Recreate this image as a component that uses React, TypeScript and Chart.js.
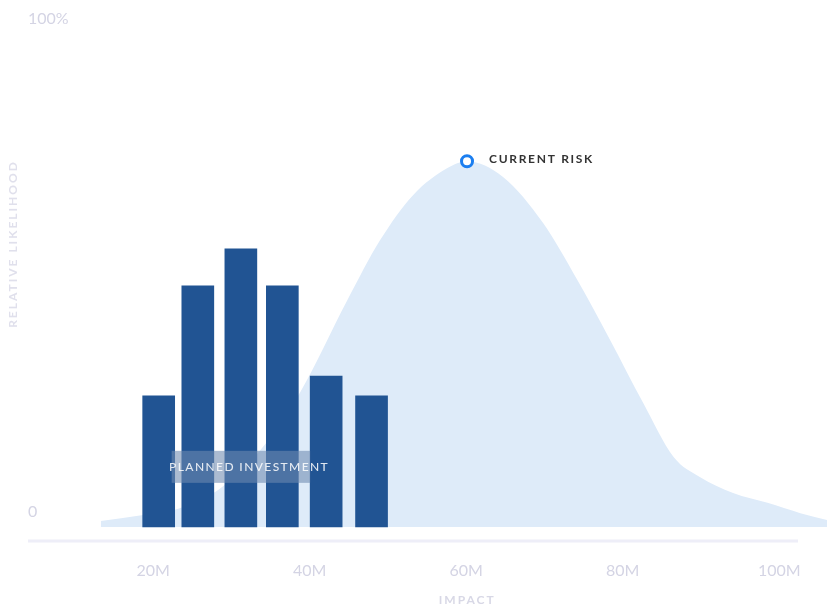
import React, { useEffect, useRef } from 'react';
import { Chart, registerables } from 'chart.js';

Chart.register(...registerables);

// ---- data ----
const xTickValues = [20, 40, 60, 80, 100];
const yTickValues = [0, 100];
const axisLineEnd = 102.4;
const barImpact = [20.7, 25.7, 31.2, 36.5, 42.1, 47.9];
const barLikelihood = [26.6, 48.9, 56.4, 48.9, 30.6, 26.6];
const curveImpact = [13.3, 18.5, 23.2, 28.3, 33.7, 38.8, 44.8, 49.0, 53.2, 57.6, 60.1, 64.7, 69.8, 74.2, 78.4, 82.6, 86.5, 89.9, 94.1, 98.5, 102.7, 106.1];
const curveLikelihood = [1.2, 2.4, 3.7, 7.5, 15.6, 27.4, 46.0, 58.2, 67.3, 72.8, 74.2, 71.0, 61.7, 50.1, 37.9, 25.2, 14.2, 10.1, 6.9, 4.9, 2.8, 1.4];
const currentRiskImpact = [60.1];
const currentRiskLikelihood = [74.2];
const labels = {
  xTitle: 'IMPACT',
  yTitle: 'RELATIVE LIKELIHOOD',
  risk: 'CURRENT RISK',
  investment: 'PLANNED INVESTMENT',
};

const FONT = 'Lato, "Open Sans", sans-serif';

const annotationPlugin = {
  id: 'riskAnnotations',
  afterDatasetsDraw(chart: any) {
    const ctx = chart.ctx;
    const bars = chart.getDatasetMeta(1).data;
    const yScale = chart.scales.y;
    if (!bars || bars.length < 6) return;
    // planned investment band
    const left = bars[0].x + 13;
    const right = bars[4].x - 16;
    const cy = yScale.getPixelForValue(12.2);
    ctx.save();
    ctx.fillStyle = 'rgba(110,138,176,0.58)';
    ctx.fillRect(left, cy - 16, right - left, 32);
    ctx.font = `500 12px ${FONT}`;
    (ctx as any).letterSpacing = '1.4px';
    ctx.fillStyle = 'rgba(255,255,255,0.85)';
    ctx.textAlign = 'center';
    ctx.textBaseline = 'middle';
    ctx.fillText(labels.investment, (bars[0].x + bars[5].x) / 2 - 16, cy);
    ctx.restore();
  },
  afterDraw(chart: any) {
    const ctx = chart.ctx;
    const area = chart.chartArea;
    const xs = chart.scales.x;
    ctx.save();
    // x axis line
    ctx.strokeStyle = '#eeeef8';
    ctx.lineWidth = 3;
    ctx.beginPath();
    ctx.moveTo(area.left, area.bottom);
    ctx.lineTo(xs.getPixelForValue(axisLineEnd), area.bottom);
    ctx.stroke();
    // current risk label
    const pt = chart.getDatasetMeta(0).data[0];
    if (pt) {
      ctx.font = `bold 12px ${FONT}`;
      (ctx as any).letterSpacing = '1.7px';
      ctx.fillStyle = '#333333';
      ctx.textAlign = 'left';
      ctx.textBaseline = 'middle';
      ctx.fillText(labels.risk, pt.x + 22, pt.y - 2);
    }
    // axis titles
    ctx.font = `bold 12px ${FONT}`;
    (ctx as any).letterSpacing = '2px';
    ctx.fillStyle = '#d8d8e6';
    ctx.textAlign = 'center';
    ctx.textBaseline = 'middle';
    ctx.fillText(labels.xTitle, xs.getPixelForValue(60) + 1, 600);
    ctx.translate(13, 244);
    ctx.rotate(-Math.PI / 2);
    ctx.fillStyle = '#e0e0ec';
    ctx.fillText(labels.yTitle, 0, 0);
    ctx.restore();
  },
};

export default function App() {
  const ref = useRef<HTMLCanvasElement | null>(null);

  useEffect(() => {
    if (!ref.current) return;
    const chart = new Chart(ref.current, {
      type: 'line',
      data: {
        datasets: [
          {
            type: 'line',
            label: 'Current risk',
            data: currentRiskImpact.map((x, i) => ({ x, y: currentRiskLikelihood[i] })),
            showLine: false,
            pointRadius: 5.5,
            pointBorderWidth: 3,
            pointBorderColor: '#1b7ef0',
            pointBackgroundColor: '#ffffff',
            clip: false,
            order: 0,
          } as any,
          {
            type: 'bar',
            label: 'Planned investment',
            data: barImpact.map((x, i) => ({ x, y: barLikelihood[i] })),
            backgroundColor: '#215493',
            barThickness: 32,
            order: 1,
          } as any,
          {
            type: 'line',
            label: 'Risk distribution',
            data: curveImpact.map((x, i) => ({ x, y: curveLikelihood[i] })),
            borderWidth: 0,
            borderColor: 'rgba(0,0,0,0)',
            backgroundColor: '#deebf9',
            fill: 'origin',
            pointRadius: 0,
            cubicInterpolationMode: 'monotone',
            order: 5,
          } as any,
        ],
      },
      options: {
        animation: false,
        responsive: false,
        maintainAspectRatio: false,
        layout: { autoPadding: false, padding: { left: 28, right: 0, top: 34, bottom: 0 } },
        plugins: {
          legend: { display: false },
          tooltip: { enabled: false },
        },
        scales: {
          x: {
            type: 'linear',
            min: 4,
            max: 106.1,
            offset: false,
            grid: { display: false, offset: false },
            border: { display: false },
            afterBuildTicks: (scale: any) => {
              scale.ticks = xTickValues.map((v) => ({ value: v }));
            },
            afterFit: (scale: any) => {
              scale.height = 66;
            },
            ticks: {
              padding: 12,
              color: '#d4d4e4',
              font: { family: FONT, size: 16 },
              callback: (v: any) => `${v}M`,
            },
          },
          y: {
            type: 'linear',
            min: -2.84,
            max: 100,
            grid: { display: false },
            border: { display: false },
            afterBuildTicks: (scale: any) => {
              scale.ticks = yTickValues.map((v) => ({ value: v }));
            },
            afterFit: (scale: any) => {
              scale.width = 0;
            },
            ticks: {
              mirror: true,
              padding: 0,
              labelOffset: -15,
              color: '#d4d4e4',
              font: { family: FONT, size: 16 },
              callback: (v: any) => (v === 100 ? '100%' : String(v)),
            },
          },
        },
      },
      plugins: [annotationPlugin],
    });
    return () => chart.destroy();
  }, []);

  return (
    <div style={{ position: 'absolute', left: 0, top: 0, width: 827, height: 607, background: '#ffffff' }}>
      <canvas ref={ref} width={827} height={607} style={{ display: 'block', width: 827, height: 607 }} />
    </div>
  );
}
